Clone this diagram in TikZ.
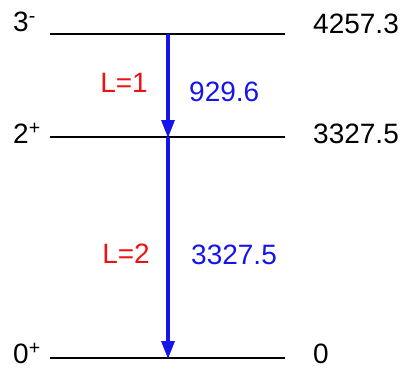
\documentclass[tikz,border=0pt]{standalone}
\usepackage{fontspec}
\setmainfont{Liberation Sans}
\usetikzlibrary{arrows.meta}
\definecolor{lblred}{RGB}{235,20,20}
\definecolor{trblue}{RGB}{20,20,235}
\begin{document}
\begin{tikzpicture}[x=1pt,y=-1pt,
  level/.style={line width=2.8pt,black},
  trans/.style={line width=3.2pt,trblue,-{Triangle[length=18pt,width=13pt]},shorten >=-1pt},
  txt/.style={font=\fontsize{28}{32}\selectfont,inner sep=0pt},
  ltxt/.style={txt,text=lblred},
  btxt/.style={txt,text=trblue}]
\useasboundingbox (0,0) rectangle (403,369);
% levels
\coordinate (a1) at (50,34);  \coordinate (a2) at (285,34);
\coordinate (b1) at (50,137); \coordinate (b2) at (285,137);
\coordinate (c1) at (50,358); \coordinate (c2) at (285,358);
\coordinate (at) at (168,34); \coordinate (bt) at (168,137); \coordinate (ct) at (168,358);
\draw[level] (a1) -- (a2);
\draw[level] (b1) -- (b2);
\draw[level] (c1) -- (c2);
% spins
\node[txt,anchor=west] (s3) at (13,22) {3\textsuperscript{-}};
\node[txt,anchor=west] (s2) at (13,133) {2\textsuperscript{+}};
\node[txt,anchor=west] (s0) at (13,353) {0\textsuperscript{+}};
% energies
\node[txt,anchor=west] (e3) at (313,24) {4257.3};
\node[txt,anchor=west] (e2) at (313,134) {3327.5};
\node[txt,anchor=west] (e0) at (313,354) {0};
% transitions
\draw[trans] (at) -- (bt);
\draw[trans] (bt) -- (ct);
\node[ltxt] (l1) at (124,83) {L=1};
\node[btxt,anchor=west] (g1) at (189,92) {929.6};
\node[ltxt] (l2) at (126,254) {L=2};
\node[btxt,anchor=west] (g2) at (191,255) {3327.5};
\end{tikzpicture}
\end{document}
